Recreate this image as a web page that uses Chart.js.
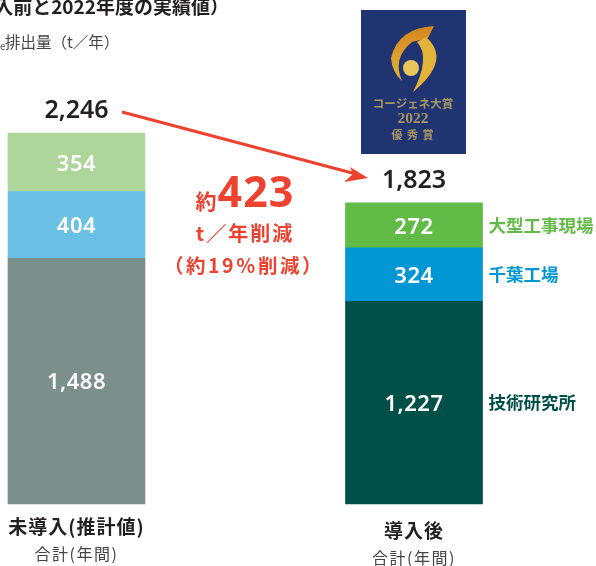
<!DOCTYPE html>
<html lang="ja">
<head>
<meta charset="utf-8">
<style>
  html, body { margin: 0; padding: 0; background: #fff; }
  canvas { display: block; }
</style>
</head>
<body>
<canvas id="chart" width="596" height="566"></canvas>
<script src="https://cdn.jsdelivr.net/npm/chart.js@4/dist/chart.umd.min.js"></script>
<script>
const categories = ['未導入(推計値)', '導入後'];
const subLabels = ['合計(年間)', '合計(年間)'];
const labResearch = [1488, 1227];
const chibaPlant = [404, 324];
const largeSites = [354, 272];
const totals = ['2,246', '1,823'];
const seriesNames = ['技術研究所', '千葉工場', '大型工事現場'];

const FONT = '"Noto Sans CJK JP", "Noto Sans", sans-serif';
const RED = '#ee4230';
const INK = '#231f20';
const BADGE_GOLD = '#ab9663';

function text(ctx, str, x, y, font, color, align = 'center', spacing = '0px') {
  ctx.font = font;
  ctx.fillStyle = color;
  ctx.textAlign = align;
  ctx.textBaseline = 'middle';
  ctx.letterSpacing = spacing;
  ctx.fillText(str, x, y);
  ctx.letterSpacing = '0px';
}

// cut-off heading, award badge, arrow and the reduction callout
const annotations = {
  id: 'annotations',
  afterDraw(chart) {
    const { ctx, scales: { x } } = chart;
    ctx.save();

    text(ctx, '入前と2022年度の実績値）', 229, 7, `bold 19px ${FONT}`, INK, 'right');
    text(ctx, 'e', 0, 46, `10px ${FONT}`, '#555', 'left');
    text(ctx, '排出量（t／年）', 5, 42, `15.5px ${FONT}`, '#444', 'left');

    // badge
    ctx.fillStyle = '#1f3470';
    ctx.fillRect(361, 10, 105, 144);
    const swoosh = ctx.createLinearGradient(0, 26, 0, 70);
    swoosh.addColorStop(0, '#d5861f');
    swoosh.addColorStop(1, '#e0ac35');
    ctx.fillStyle = swoosh;
    ctx.beginPath();
    ctx.moveTo(434, 26);
    ctx.quadraticCurveTo(398, 28, 391, 58);
    ctx.quadraticCurveTo(392, 72, 402, 81);
    ctx.quadraticCurveTo(392, 58, 412, 42);
    ctx.lineTo(428, 38);
    ctx.closePath();
    ctx.fill();
    ctx.fillStyle = '#e3b437';
    ctx.beginPath();
    ctx.moveTo(417, 42);
    ctx.lineTo(426, 37);
    ctx.quadraticCurveTo(452, 60, 413, 92);
    ctx.quadraticCurveTo(431, 57, 417, 42);
    ctx.fill();
    ctx.fillStyle = '#e8c55a';
    ctx.beginPath();
    ctx.arc(411, 68, 8, 0, Math.PI * 2);
    ctx.fill();
    text(ctx, 'コージェネ大賞', 413, 104, `bold 11.5px ${FONT}`, BADGE_GOLD);
    text(ctx, '2022', 413, 119, `bold 15.5px "Liberation Serif", serif`, BADGE_GOLD);
    text(ctx, '優 秀 賞', 413, 135, `bold 11px ${FONT}`, BADGE_GOLD, 'center', '1px');

    // arrow between the two totals
    ctx.strokeStyle = RED;
    ctx.lineWidth = 3;
    ctx.beginPath();
    ctx.moveTo(122, 112);
    ctx.lineTo(356, 174);
    ctx.stroke();
    ctx.fillStyle = RED;
    ctx.beginPath();
    ctx.moveTo(368, 178);
    ctx.lineTo(344, 182);
    ctx.lineTo(353, 174);
    ctx.lineTo(350, 167);
    ctx.closePath();
    ctx.fill();

    // callout
    text(ctx, '約', 206, 201, `bold 21px ${FONT}`, RED);
    text(ctx, '423', 256, 195, `bold 43px "Noto Sans", ${FONT}`, RED, 'center', '1px');
    text(ctx, 't／年削減', 245, 233, `bold 20px ${FONT}`, RED, 'center', '2px');
    text(ctx, '（約19％削減）', 244, 266, `bold 19.5px ${FONT}`, RED, 'center', '2.5px');

    // totals and category names under the bars
    const nudge = [0, 4];
    categories.forEach((name, i) => {
      const cx = x.getPixelForValue(i);
      text(ctx, totals[i], cx, i === 0 ? 111 : 181, `600 25px "Noto Sans", ${FONT}`, INK);
      text(ctx, name, cx, 527 + nudge[i], `bold 19px ${FONT}`, INK, 'center', '1px');
      text(ctx, subLabels[i], cx, 554 + nudge[i], `16px ${FONT}`, '#444', 'center', '1.5px');
    });

    // values inside the segments, series names beside the right bar
    chart.data.datasets.forEach((ds, d) => {
      const bars = chart.getDatasetMeta(d).data;
      bars.forEach((bar, i) => {
        const mid = (bar.y + bar.base) / 2;
        text(ctx, ds.data[i].toLocaleString('en-US'), bar.x, mid + 2, `600 22px "Noto Sans", ${FONT}`, '#fff', 'center', '0.5px');
      });
      const right = bars[1];
      text(ctx, seriesNames[d], right.x + right.width / 2 + 6, (right.y + right.base) / 2,
        `bold 17.5px ${FONT}`, ds.backgroundColor[1], 'left');
    });

    ctx.restore();
  }
};

new Chart(document.getElementById('chart'), {
  type: 'bar',
  data: {
    labels: categories,
    datasets: [
      { label: seriesNames[0], data: labResearch, backgroundColor: ['#7b8f8b', '#00504a'] },
      { label: seriesNames[1], data: chibaPlant, backgroundColor: ['#6bc0e6', '#0097d4'] },
      { label: seriesNames[2], data: largeSites, backgroundColor: ['#aed69b', '#62bb46'] }
    ]
  },
  options: {
    responsive: false,
    animation: false,
    events: [],
    layout: { padding: { left: 76.5, right: 182, top: 133, bottom: 62 } },
    clip: false,
    barThickness: 137,
    plugins: { legend: { display: false }, tooltip: { enabled: false } },
    scales: {
      x: { display: false, stacked: true, offset: false },
      y: { display: false, stacked: true, min: 0, max: 2246 }
    }
  },
  plugins: [annotations]
});
</script>
</body>
</html>
